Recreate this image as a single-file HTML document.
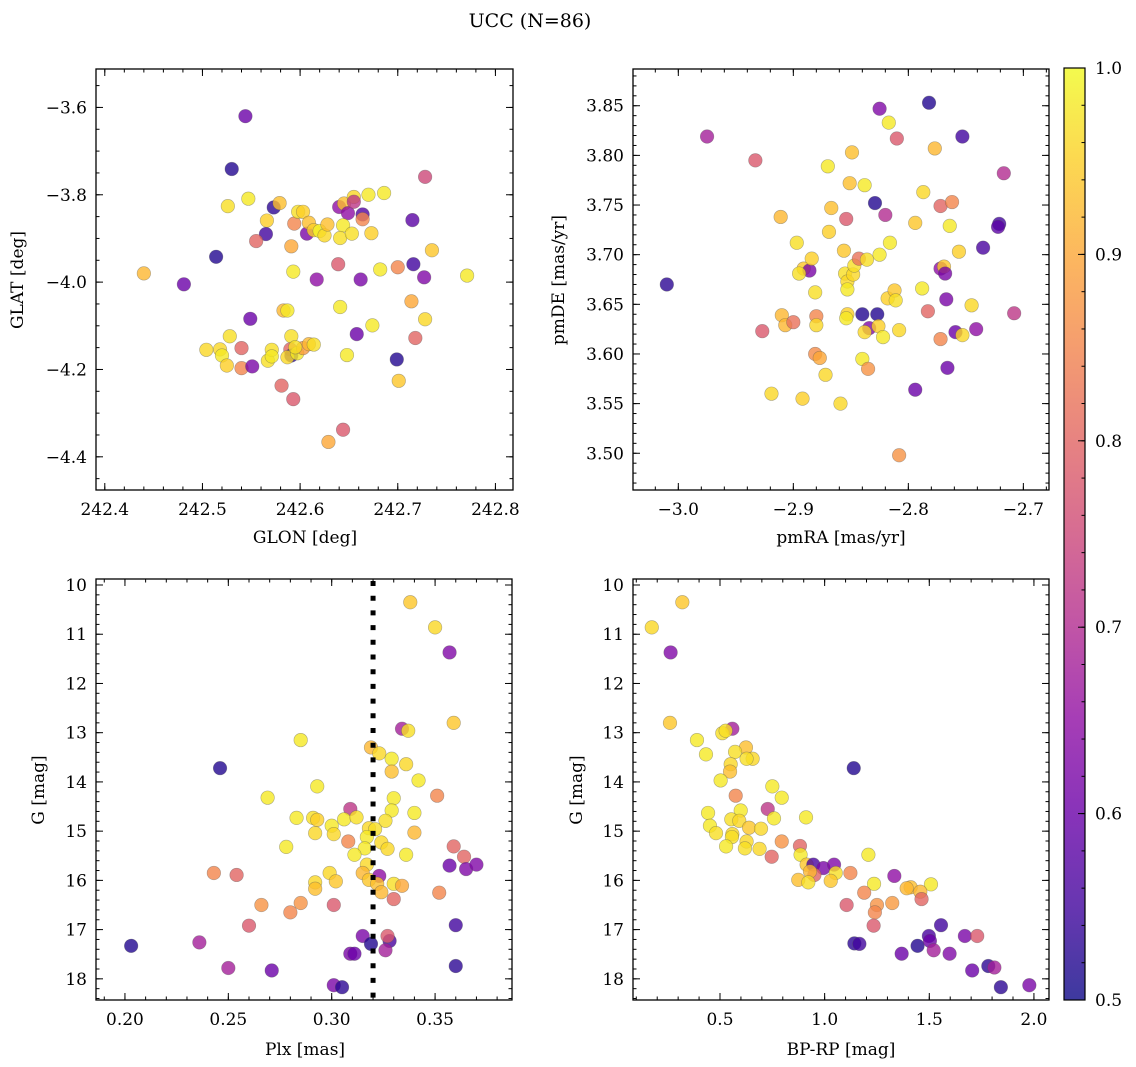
<!DOCTYPE html>
<html><head><meta charset="utf-8"><title>UCC (N=86)</title>
<style>
html,body{margin:0;padding:0;background:#fff;}
svg{display:block;font-family:"DejaVu Serif","Liberation Serif",serif;}
</style></head>
<body>
<svg id="fig" width="1136" height="1067" viewBox="0 0 1136 1067" xmlns="http://www.w3.org/2000/svg">
<rect width="1136" height="1067" fill="#fff"/>
<text x="530" y="27" font-size="19" text-anchor="middle">UCC (N=86)</text>
<defs>
<linearGradient id="cbgrad" x1="0" y1="1" x2="0" y2="0">
<stop offset="0" stop-color="#0d0887" stop-opacity="0.8"/>
<stop offset="0.1" stop-color="#41049d" stop-opacity="0.8"/>
<stop offset="0.2" stop-color="#6a00a8" stop-opacity="0.8"/>
<stop offset="0.3" stop-color="#8f0da4" stop-opacity="0.8"/>
<stop offset="0.4" stop-color="#b12a90" stop-opacity="0.8"/>
<stop offset="0.5" stop-color="#cc4778" stop-opacity="0.8"/>
<stop offset="0.6" stop-color="#e16462" stop-opacity="0.8"/>
<stop offset="0.7" stop-color="#f2844b" stop-opacity="0.8"/>
<stop offset="0.8" stop-color="#fca636" stop-opacity="0.8"/>
<stop offset="0.9" stop-color="#fcce25" stop-opacity="0.8"/>
<stop offset="1" stop-color="#f0f921" stop-opacity="0.8"/>
</linearGradient>
</defs>
</svg>
<script>
// ---------- Panel 1: GLON / GLAT ----------
const glon = [242.544,242.530,242.728,242.526,242.547,242.573,242.579,242.566,242.565,242.555,242.514,242.440,242.481,242.594,242.598,242.603,242.607,242.609,242.614,242.620,242.625,242.628,242.591,242.593,242.617,242.639,242.640,242.645,242.649,242.655,242.655,242.664,242.664,242.644,242.641,242.653,242.670,242.686,242.673,242.662,242.682,242.700,242.715,242.716,242.727,242.735,242.771,242.714,242.728,242.718,242.699,242.701,242.674,242.641,242.658,242.648,242.644,242.629,242.593,242.581,242.549,242.583,242.587,242.591,242.528,242.504,242.518,242.520,242.525,242.540,242.540,242.551,242.567,242.571,242.571,242.590,242.591,242.587,242.597,242.603,242.609,242.614,242.595];
const glat = [-3.620,-3.741,-3.759,-3.826,-3.809,-3.829,-3.819,-3.859,-3.890,-3.906,-3.942,-3.980,-4.005,-3.866,-3.839,-3.839,-3.889,-3.864,-3.881,-3.883,-3.893,-3.868,-3.918,-3.976,-3.994,-3.959,-3.828,-3.820,-3.842,-3.805,-3.816,-3.845,-3.856,-3.870,-3.899,-3.889,-3.800,-3.796,-3.888,-3.994,-3.971,-3.966,-3.858,-3.959,-3.989,-3.927,-3.985,-4.044,-4.085,-4.128,-4.177,-4.226,-4.099,-4.057,-4.119,-4.167,-4.338,-4.366,-4.268,-4.237,-4.084,-4.065,-4.065,-4.124,-4.124,-4.155,-4.154,-4.168,-4.191,-4.151,-4.197,-4.193,-4.180,-4.155,-4.170,-4.154,-4.168,-4.172,-4.163,-4.151,-4.142,-4.143,-4.149];
const prob1 = [0.6,0.52,0.75,0.97,0.98,0.53,0.93,0.95,0.55,0.8,0.52,0.92,0.6,0.85,0.97,0.95,0.62,0.93,0.95,0.99,0.96,0.93,0.9,0.98,0.65,0.78,0.65,0.93,0.65,0.96,0.72,0.57,0.85,0.98,0.97,0.97,0.98,0.98,0.95,0.62,0.98,0.85,0.58,0.55,0.63,0.94,0.98,0.9,0.96,0.8,0.52,0.94,0.98,0.98,0.6,0.98,0.78,0.9,0.78,0.8,0.6,0.92,0.98,0.97,0.97,0.96,0.96,0.98,0.95,0.8,0.85,0.62,0.97,0.97,0.98,0.8,0.53,0.96,0.98,0.88,0.92,0.97,0.97];
const glonTicks = [242.4,242.5,242.6,242.7,242.8];
const glatTicks = [-3.6,-3.8,-4.0,-4.2,-4.4];

// ---------- Panel 2: pmRA / pmDE ----------
const pmra = [-3.010,-2.975,-2.933,-2.927,-2.919,-2.911,-2.910,-2.907,-2.900,-2.897,-2.891,-2.886,-2.895,-2.892,-2.884,-2.881,-2.880,-2.880,-2.881,-2.877,-2.872,-2.870,-2.869,-2.867,-2.859,-2.856,-2.854,-2.851,-2.849,-2.855,-2.853,-2.853,-2.848,-2.847,-2.843,-2.853,-2.854,-2.840,-2.838,-2.836,-2.834,-2.838,-2.840,-2.835,-2.829,-2.827,-2.826,-2.825,-2.825,-2.822,-2.820,-2.818,-2.817,-2.816,-2.812,-2.811,-2.810,-2.808,-2.808,-2.794,-2.794,-2.788,-2.787,-2.783,-2.782,-2.777,-2.772,-2.772,-2.772,-2.769,-2.768,-2.767,-2.766,-2.764,-2.762,-2.759,-2.756,-2.753,-2.753,-2.745,-2.741,-2.735,-2.721,-2.722,-2.717,-2.708];
const pmde = [3.670,3.819,3.795,3.623,3.560,3.738,3.639,3.629,3.632,3.712,3.686,3.684,3.681,3.555,3.696,3.662,3.638,3.629,3.600,3.596,3.579,3.789,3.723,3.747,3.550,3.704,3.736,3.772,3.803,3.681,3.673,3.665,3.680,3.689,3.696,3.640,3.636,3.640,3.770,3.695,3.626,3.622,3.595,3.585,3.752,3.640,3.628,3.700,3.847,3.617,3.740,3.656,3.833,3.712,3.664,3.654,3.817,3.624,3.498,3.732,3.564,3.666,3.763,3.643,3.853,3.807,3.749,3.615,3.686,3.688,3.681,3.655,3.586,3.729,3.753,3.622,3.703,3.819,3.619,3.649,3.625,3.707,3.731,3.728,3.782,3.641];
const prob2 = [0.53,0.68,0.78,0.78,0.96,0.92,0.92,0.92,0.82,0.97,0.94,0.62,0.97,0.95,0.95,0.97,0.85,0.96,0.86,0.9,0.96,0.98,0.95,0.93,0.96,0.94,0.78,0.93,0.93,0.97,0.96,0.98,0.96,0.97,0.82,0.95,0.98,0.52,0.98,0.97,0.63,0.96,0.98,0.87,0.52,0.52,0.95,0.98,0.63,0.98,0.7,0.95,0.98,0.98,0.94,0.97,0.78,0.96,0.87,0.94,0.6,0.98,0.96,0.8,0.52,0.92,0.8,0.85,0.65,0.94,0.62,0.62,0.6,0.98,0.85,0.6,0.95,0.55,0.96,0.96,0.65,0.56,0.55,0.58,0.7,0.72];
const pmraTicks = [-3.0,-2.9,-2.8,-2.7];
const pmdeTicks = [3.50,3.55,3.60,3.65,3.70,3.75,3.80,3.85];

// ---------- Panel 3: Plx / G ----------
const plx = [0.338,0.350,0.357,0.359,0.334,0.337,0.285,0.319,0.323,0.329,0.336,0.329,0.246,0.342,0.293,0.269,0.330,0.351,0.309,0.329,0.340,0.283,0.291,0.293,0.306,0.312,0.326,0.300,0.318,0.321,0.292,0.301,0.340,0.308,0.317,0.324,0.327,0.278,0.316,0.311,0.336,0.359,0.364,0.357,0.365,0.370,0.317,0.243,0.254,0.299,0.315,0.323,0.302,0.318,0.322,0.292,0.292,0.330,0.334,0.324,0.352,0.330,0.266,0.285,0.280,0.301,0.260,0.360,0.315,0.319,0.328,0.327,0.326,0.309,0.311,0.203,0.236,0.250,0.271,0.360,0.301,0.305];
const gmag3 = [10.35,10.86,11.37,12.80,12.92,12.96,13.15,13.30,13.42,13.53,13.64,13.79,13.72,13.97,14.09,14.32,14.33,14.28,14.55,14.58,14.63,14.73,14.73,14.77,14.76,14.72,14.79,14.89,14.94,14.96,15.04,15.06,15.03,15.21,15.12,15.23,15.36,15.32,15.35,15.48,15.48,15.31,15.52,15.70,15.77,15.68,15.68,15.85,15.89,15.85,15.85,15.91,16.02,15.99,16.07,16.04,16.17,16.07,16.11,16.24,16.25,16.38,16.50,16.46,16.65,16.50,16.92,16.91,17.13,17.29,17.23,17.13,17.42,17.49,17.49,17.33,17.26,17.78,17.83,17.74,18.13,18.17];
const prob3 = [0.94,0.96,0.63,0.94,0.68,0.97,0.98,0.92,0.96,0.98,0.96,0.93,0.52,0.98,0.98,0.98,0.98,0.85,0.72,0.98,0.98,0.98,0.97,0.95,0.98,0.97,0.97,0.98,0.96,0.97,0.96,0.96,0.92,0.85,0.98,0.96,0.96,0.98,0.98,0.98,0.98,0.8,0.8,0.6,0.63,0.63,0.96,0.85,0.8,0.96,0.92,0.65,0.94,0.94,0.93,0.96,0.93,0.97,0.9,0.92,0.85,0.8,0.87,0.87,0.85,0.78,0.78,0.55,0.62,0.52,0.56,0.78,0.68,0.62,0.6,0.52,0.68,0.68,0.6,0.53,0.62,0.53];
const plxTicks = [0.20,0.25,0.30,0.35];
const plxCut = [0.32];
const gTicks = [10,11,12,13,14,15,16,17,18];

// ---------- Panel 4: BP-RP / G ----------
const bprp = [0.174,0.320,0.264,0.261,0.559,0.511,0.527,0.390,0.433,0.624,0.572,0.656,0.627,0.551,0.548,0.503,1.139,0.750,0.795,0.575,0.728,0.443,0.599,0.758,0.911,0.554,0.452,0.592,0.639,0.696,0.481,0.559,0.557,0.795,0.627,0.529,0.619,0.689,0.747,0.882,0.885,1.209,0.914,0.946,0.994,1.045,0.951,0.930,1.053,0.874,0.922,1.029,1.123,1.236,1.333,1.411,1.392,1.508,1.457,1.189,1.463,1.105,1.250,1.323,1.240,1.234,1.556,1.498,1.670,1.729,1.142,1.166,1.444,1.503,1.521,1.368,1.597,1.705,1.782,1.811,1.842,1.978];
const gmag4 = [10.86,10.35,11.37,12.80,12.92,13.01,12.96,13.15,13.44,13.30,13.39,13.53,13.53,13.64,13.79,13.97,13.72,14.09,14.32,14.28,14.55,14.63,14.58,14.74,14.72,14.76,14.89,14.79,14.93,14.95,15.04,15.06,15.12,15.21,15.21,15.31,15.35,15.36,15.52,15.30,15.48,15.48,15.68,15.68,15.75,15.68,15.89,15.82,15.85,15.99,16.04,16.01,15.85,16.07,15.91,16.14,16.16,16.08,16.23,16.25,16.38,16.50,16.50,16.46,16.65,16.92,16.91,17.13,17.13,17.13,17.28,17.29,17.33,17.23,17.42,17.49,17.49,17.83,17.74,17.77,18.17,18.13];
const prob4 = [0.96,0.94,0.63,0.94,0.68,0.97,0.97,0.98,0.98,0.93,0.97,0.96,0.97,0.96,0.93,0.98,0.52,0.98,0.98,0.85,0.72,0.98,0.98,0.98,0.98,0.97,0.98,0.96,0.94,0.96,0.97,0.96,0.97,0.87,0.96,0.98,0.97,0.96,0.8,0.8,0.98,0.98,0.94,0.56,0.62,0.63,0.8,0.92,0.97,0.93,0.97,0.94,0.85,0.98,0.65,0.93,0.92,0.98,0.92,0.85,0.8,0.78,0.87,0.88,0.85,0.78,0.55,0.56,0.62,0.78,0.53,0.55,0.52,0.6,0.68,0.6,0.63,0.6,0.53,0.68,0.53,0.62];
const bprpTicks = [0.5,1.0,1.5,2.0];

// ---------- Colorbar ----------
const cbTicks = [0.5,0.6,0.7,0.8,0.9,1.0];
const cbRange = [0.5,1.0];

const NS = "http://www.w3.org/2000/svg";
const svg = document.getElementById('fig');
const plasma = ["#0d0887","#41049d","#6a00a8","#8f0da4","#b12a90","#cc4778","#e16462","#f2844b","#fca636","#fcce25","#f0f921"];
function hex(h){return [parseInt(h.substr(1,2),16),parseInt(h.substr(3,2),16),parseInt(h.substr(5,2),16)];}
function cmap(v){
  let t=(v-cbRange[0])/(cbRange[1]-cbRange[0]); t=Math.max(0,Math.min(1,t));
  const p=t*10, i=Math.min(9,Math.floor(p)), f=p-i;
  const a=hex(plasma[i]), b=hex(plasma[i+1]);
  return 'rgb('+a.map((x,k)=>Math.round(x+(b[k]-x)*f)).join(',')+')';
}
function mk(tag, attrs, parent){
  const e=document.createElementNS(NS,tag);
  for(const k in attrs) e.setAttribute(k, attrs[k]);
  (parent||svg).appendChild(e); return e;
}
function fmt(v,d){ const s=Math.abs(v).toFixed(d); return (v<-1e-9?'\u2212':'')+s; }

function panel(name, box, xr, yr, opts){
  const g=mk('g',{});
  
  
  const sx=v=>box.x0+(v-xr[0])/(xr[1]-xr[0])*(box.x1-box.x0);
  const sy=v=>box.y1-(v-yr[0])/(yr[1]-yr[0])*(box.y1-box.y0);
  return {g,sx,sy,box};
}
function ticks(P, xr, yr, xMaj, xMinStep, yMaj, yMinStep, xd, yd){
  const {g,sx,sy,box}=P;
  const tg=mk('g',{stroke:'#000','stroke-width':1},g);
  
  
  const lo=Math.min(xr[0],xr[1]), hi=Math.max(xr[0],xr[1]);
  for(let v=Math.ceil(lo/xMinStep-1e-6)*xMinStep; v<=hi+1e-9; v+=xMinStep){
    const x=sx(v);
    mk('line',{x1:x,x2:x,y1:box.y1,y2:box.y1-3.5},tg);
    mk('line',{x1:x,x2:x,y1:box.y0,y2:box.y0+3.5},tg);
  }
  const ylo=Math.min(yr[0],yr[1]), yhi=Math.max(yr[0],yr[1]);
  for(let v=Math.ceil(ylo/yMinStep-1e-6)*yMinStep; v<=yhi+1e-9; v+=yMinStep){
    const y=sy(v);
    mk('line',{x1:box.x0,x2:box.x0+3.5,y1:y,y2:y},tg);
    mk('line',{x1:box.x1,x2:box.x1-3.5,y1:y,y2:y},tg);
  }
  xMaj.forEach(v=>{
    const x=sx(v);
    mk('line',{x1:x,x2:x,y1:box.y1,y2:box.y1-7},tg);
    mk('line',{x1:x,x2:x,y1:box.y0,y2:box.y0+7},tg);
    const t=mk('text',{x:x,y:box.y1+25,'font-size':17,'text-anchor':'middle'},g);
    
    
    t.textContent=fmt(v,xd);
  });
  yMaj.forEach(v=>{
    const y=sy(v);
    mk('line',{x1:box.x0,x2:box.x0+7,y1:y,y2:y},tg);
    mk('line',{x1:box.x1,x2:box.x1-7,y1:y,y2:y},tg);
    const t=mk('text',{x:box.x0-9,y:y+6,'font-size':17,'text-anchor':'end'},g);
    
    
    t.textContent=fmt(v,yd);
  });
}
function scatter(P, xs, ys, cs){
  const n=Math.min(xs.length, ys.length, cs.length);
  const sg=mk('g',{},P.g);
  
  
  for(let i=0;i<n;i++){
    const c=mk('circle',{cx:P.sx(xs[i]),cy:P.sy(ys[i]),r:6.8,fill:cmap(cs[i]),'fill-opacity':0.8,stroke:'#555','stroke-opacity':0.45,'stroke-width':0.6},sg);
    
    
  }
}
function frame(P){
  const b=P.box;
  const r=mk('rect',{x:b.x0,y:b.y0,width:b.x1-b.x0,height:b.y1-b.y0,fill:'none',stroke:'#000','stroke-width':1.3},P.g);
  
  
}
function label(text, x, y, rot, name){
  const t=mk('text',{x:x,y:y,'font-size':17,'text-anchor':'middle'});
  if(rot) t.setAttribute('transform','rotate(-90 '+x+' '+y+')');
  
  
  t.textContent=text;
}

// Panel 1
const r1x=[242.391,242.818], r1y=[-4.476,-3.512];
const P1=panel('panel-glon-glat',{x0:96,x1:513,y0:69,y1:490},r1x,r1y);
scatter(P1,glon,glat,prob1);
ticks(P1,r1x,r1y,glonTicks,0.02,glatTicks,0.05,1,1);
frame(P1);
label('GLON [deg]',305,543,false,'x-axis-title-glon');
label('GLAT [deg]',23,280,true,'y-axis-title-glat');

// Panel 2
const r2x=[-3.0394,-2.6777], r2y=[3.463,3.887];
const P2=panel('panel-pmra-pmde',{x0:633,x1:1049,y0:69,y1:490},r2x,r2y);
scatter(P2,pmra,pmde,prob2);
ticks(P2,r2x,r2y,pmraTicks,0.02,pmdeTicks,0.01,1,2);
frame(P2);
label('pmRA [mas/yr]',841,543,false,'x-axis-title-pmra');
label('pmDE [mas/yr]',564,280,true,'y-axis-title-pmde');

// Panel 3
const r3x=[0.186,0.3872], r3y=[18.43,9.878];
const P3=panel('panel-plx-g',{x0:96,x1:512,y0:579,y1:1000},r3x,r3y);
scatter(P3,plx,gmag3,prob3);
plxCut.forEach(v=>{
  const l=mk('line',{x1:P3.sx(v),x2:P3.sx(v),y1:579,y2:1000,stroke:'#000','stroke-width':5,'stroke-dasharray':'5 9.7','stroke-dashoffset':-2},P3.g);
  
  
});
ticks(P3,r3x,r3y,plxTicks,0.01,gTicks,0.2,2,0);
frame(P3);
label('Plx [mas]',305,1055,false,'x-axis-title-plx');
label('G [mag]',44,790,true,'y-axis-title-g-left');

// Panel 4
const r4x=[0.0843,2.072], r4y=[18.43,9.878];
const P4=panel('panel-bprp-g',{x0:633,x1:1049,y0:579,y1:1000},r4x,r4y);
scatter(P4,bprp,gmag4,prob4);
ticks(P4,r4x,r4y,bprpTicks,0.1,gTicks,0.2,1,0);
frame(P4);
label('BP-RP [mag]',841,1055,false,'x-axis-title-bprp');
label('G [mag]',582,790,true,'y-axis-title-g-right');

// Colorbar
const cb=mk('g',{});


const cbx0=1064, cbx1=1085, cby0=68, cby1=1000;
mk('rect',{x:cbx0,y:cby0,width:cbx1-cbx0,height:cby1-cby0,fill:'url(#cbgrad)',stroke:'#000','stroke-width':1.2},cb);
const cby=v=>cby1-(v-cbRange[0])/(cbRange[1]-cbRange[0])*(cby1-cby0);
for(let v=cbRange[0]; v<=cbRange[1]+1e-9; v+=0.02){
  mk('line',{x1:cbx1,x2:cbx1-3.5,y1:cby(v),y2:cby(v),stroke:'#000','stroke-width':1},cb);
}
cbTicks.forEach(v=>{
  mk('line',{x1:cbx1,x2:cbx1-7,y1:cby(v),y2:cby(v),stroke:'#000','stroke-width':1},cb);
  const t=mk('text',{x:cbx1+10,y:cby(v)+6,'font-size':17},cb);
  
  
  t.textContent=v.toFixed(1);
});
</script>
</body></html>
